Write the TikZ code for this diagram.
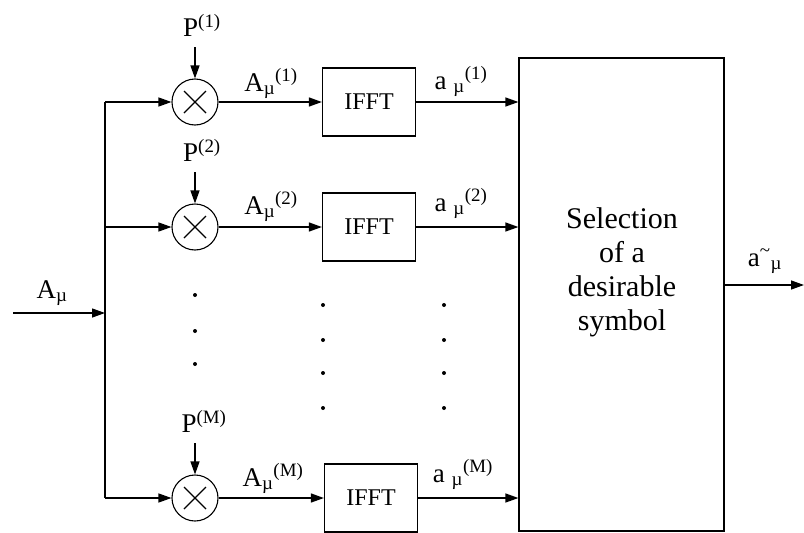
\documentclass[tikz,border=0pt]{standalone}
\usepackage{fontspec}
\setmainfont{Liberation Serif}
\usetikzlibrary{arrows.meta,positioning}

\begin{document}
\begin{tikzpicture}[
    x=1pt, y=-1pt,
    font=\fontsize{27}{32}\selectfont,
    mul/.style={draw, circle, minimum size=46pt, inner sep=0pt, line width=1.1pt,
      path picture={\draw[line width=1.1pt]
        ([shift={(-11pt,-11pt)}]path picture bounding box.center) -- ++(22pt,22pt)
        ([shift={(-11pt,11pt)}]path picture bounding box.center) -- ++(22pt,-22pt);}},
    fftblk/.style={draw, minimum width=93pt, minimum height=68pt, line width=1.2pt,
      font=\fontsize{24}{28}\selectfont},
    lbl/.style={inner sep=2pt, anchor=base},
    arr/.style={-{Triangle[length=13pt,width=9pt]}, line width=1.3pt},
    ln/.style={line width=1.3pt}
  ]
  \useasboundingbox (0,0) rectangle (804,533);
  % branching line
  \coordinate (in) at (13,313);
  \coordinate (br) at (105,313);
  \node[mul] (m1) at (195,102) {};
  \node[mul] (m2) at (195,227) {};
  \node[mul] (mM) at (195,498) {};
  \draw[arr] (in) -- (br);
  \draw[ln] (m1 -| br) -- (mM -| br);
  \draw[arr] (m1 -| br) -- (m1);
  \draw[arr] (m2 -| br) -- (m2);
  \draw[arr] (mM -| br) -- (mM);
  \node[lbl] (ain) at (52,298) {A\textsubscript{µ}};
  % phase sequences
  \node[inner sep=2pt, above=40pt of m1, xshift=7pt] (p1) {P\textsuperscript{(1)}};
  \node[inner sep=2pt, above=40pt of m2, xshift=7pt] (p2) {P\textsuperscript{(2)}};
  \node[inner sep=2pt, above=40pt of mM, xshift=9pt] (pM) {P\textsuperscript{(M)}};
  \draw[arr, shorten <=9pt] (p1.south -| m1) -- (m1);
  \draw[arr, shorten <=9pt] (p2.south -| m2) -- (m2);
  \draw[arr, shorten <=9pt] (pM.south -| mM) -- (mM);
  % IFFT blocks
  \node[fftblk] (f1) at (369,102) {IFFT};
  \node[fftblk] (f2) at (369,227) {IFFT};
  \node[fftblk] (fM) at (371,498) {IFFT};
  \draw[arr] (m1) -- (f1);
  \draw[arr] (m2) -- (f2);
  \draw[arr] (mM) -- (fM);
  \node[lbl] (A1) at (271,91) {A\textsubscript{µ}\textsuperscript{(1)}};
  \node[lbl] (A2) at (271,214) {A\textsubscript{µ}\textsuperscript{(2)}};
  \node[lbl] (AM) at (273,486) {A\textsubscript{µ}\textsuperscript{(M)}};
  % selection block
  \node[draw, line width=1.2pt, minimum width=205pt, minimum height=473pt] (sel) at (621.5,294.5) {};
  \node[align=center, font=\fontsize{30}{34}\selectfont] (seltxt) at (622,272)
    {Selection\\of a\\desirable\\symbol};
  \draw[arr] (f1) -- (f1 -| sel.west);
  \draw[arr] (f2) -- (f2 -| sel.west);
  \draw[arr] (fM) -- (fM -| sel.west);
  \node[lbl] (a1) at (461,89) {a \textsubscript{µ}\textsuperscript{(1)}};
  \node[lbl] (a2) at (461,211) {a \textsubscript{µ}\textsuperscript{(2)}};
  \node[lbl] (aM) at (463,482) {a \textsubscript{µ}\textsuperscript{(M)}};
  \coordinate (out) at (804,285);
  \draw[arr] (sel.east |- out) -- (out);
  \node[lbl] (aout) at (765,266) {a\textsuperscript{\textasciitilde}\textsubscript{µ}};
  % dots
  \foreach \y in {295,331,364} \fill (195,\y) circle (2pt);
  \foreach \y in {305,340,373,408} {
    \fill (323,\y) circle (2pt);
    \fill (444,\y) circle (2pt);
  }
\end{tikzpicture}
\end{document}
